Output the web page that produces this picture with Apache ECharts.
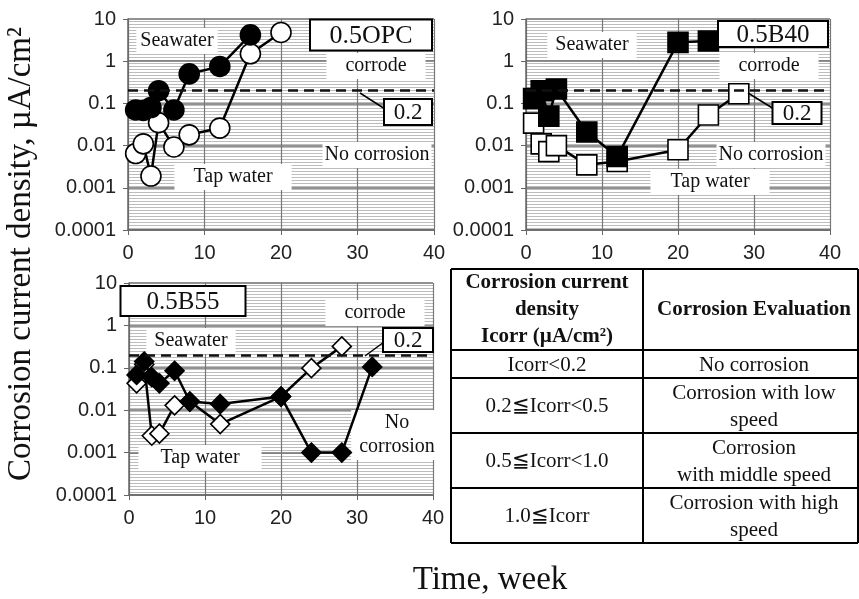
<!DOCTYPE html>
<html><head><meta charset="utf-8">
<script src="https://cdn.jsdelivr.net/npm/echarts@6/dist/echarts.min.js"></script>
<style>html,body{margin:0;padding:0;background:#fff}#c{width:859px;height:599px}</style>
</head><body><div id="c"></div>
<script>
// ---------- data ----------
const xTicks = [0, 10, 20, 30, 40];
const yTickLabels = ['0.0001', '0.001', '0.01', '0.1', '1', '10'];
const threshold = 0.2;

const opcWeeksSea = [1, 2, 3, 4, 6, 8, 12, 16];
const opcSea      = [0.07, 0.068, 0.08, 0.2, 0.07, 0.5, 0.75, 4.2];
const opcWeeksTap = [1, 2, 3, 4, 6, 8, 12, 16, 20];
const opcTap      = [0.0065, 0.011, 0.0019, 0.035, 0.0093, 0.018, 0.026, 1.5, 4.8];

const b40WeeksSea = [1, 2, 3, 4, 8, 12, 20, 24];
const b40Sea      = [0.13, 0.2, 0.05, 0.22, 0.021, 0.0055, 2.8, 3.0];
const b40WeeksTap = [1, 2, 3, 4, 8, 12, 20, 24, 28];
const b40Tap      = [0.034, 0.011, 0.0072, 0.01, 0.0035, 0.0042, 0.008, 0.053, 0.17];

const b55WeeksSea = [1, 2, 3, 4, 6, 8, 12, 20, 24, 28, 32];
const b55Sea      = [0.068, 0.14, 0.06, 0.043, 0.085, 0.016, 0.014, 0.021, 0.001, 0.001, 0.105];
const b55WeeksTap = [1, 2, 3, 4, 6, 8, 12, 20, 24, 28];
const b55Tap      = [0.043, 0.12, 0.0025, 0.0028, 0.013, 0.016, 0.0047, 0.021, 0.098, 0.32];

const panelNames = ['0.5OPC', '0.5B40', '0.5B55'];
const yTitle = 'Corrosion current density, \u00b5A/cm\u00b2';
const xTitle = 'Time, week';

const tableHeadLeft = ['Corrosion current', 'density', 'Icorr (\u00b5A/cm\u00b2)'];
const tableHeadRight = 'Corrosion Evaluation';
const tableRangeCol = ['Icorr<0.2', '0.2\u2266Icorr<0.5', '0.5\u2266Icorr<1.0', '1.0\u2266Icorr'];
const tableEvalCol = ['No corrosion', 'Corrosion with low\nspeed', 'Corrosion\nwith middle speed', 'Corrosion with high\nspeed'];

// ---------- helpers ----------
const zip = (xs, ys) => xs.map((x, i) => [x, ys[i]]);
const SERIF = "'Liberation Serif','Times New Roman',serif";
const SANS = "'Liberation Sans',Arial,sans-serif";

function stripeCanvas() {
  const c = document.createElement('canvas');
  c.width = 4; c.height = 3;
  const g = c.getContext('2d');
  g.fillStyle = '#ffffff'; g.fillRect(0, 0, 4, 3);
  g.fillStyle = '#bcbcbc'; g.fillRect(0, 0, 4, 1);
  return c;
}
const stripes = { image: stripeCanvas(), repeat: 'repeat' };

const grids = [
  { left: 128, top: 19, width: 306, height: 211 },
  { left: 526, top: 19, width: 304, height: 211 },
  { left: 129, top: 283, width: 304, height: 212 }
].map(g => Object.assign({ show: true, backgroundColor: stripes, borderWidth: 0 }, g));

function xAx(i) {
  return {
    gridIndex: i, type: 'value', min: xTicks[0], max: xTicks[xTicks.length - 1], interval: 10,
    axisLine: { show: true, onZero: false, lineStyle: { color: '#666', width: 1.5 } },
    axisTick: { show: true, length: 5, lineStyle: { color: '#666' } },
    axisLabel: { margin: 13, fontSize: 20, fontFamily: SANS, color: '#222' },
    splitLine: { show: true, lineStyle: { color: '#777', width: 1.2 } }
  };
}
function yAx(i) {
  return {
    gridIndex: i, type: 'log', logBase: 10, min: 0.0001, max: 10,
    axisLine: { show: true, onZero: false, lineStyle: { color: '#666', width: 1.5 } },
    axisTick: { show: true, length: 5, lineStyle: { color: '#666' } },
    axisLabel: { margin: 12, fontSize: 20, fontFamily: SANS, color: '#222',
      formatter: v => yTickLabels[Math.round(Math.log10(v)) + 4] },
    splitLine: { show: true, lineStyle: { color: '#6e6e6e', width: 1.5 } }
  };
}

function ser(i, data, symbol, size, filled, withMark) {
  const s = {
    type: 'line', xAxisIndex: i, yAxisIndex: i, data: data,
    symbol: symbol, symbolSize: size, showAllSymbol: true,
    lineStyle: { color: '#000', width: 2.5 },
    itemStyle: { color: filled ? '#000' : '#fff', borderColor: '#000', borderWidth: 1.6 },
    z: filled ? 4 : 3, silent: true, animation: false
  };
  if (withMark) {
    s.markLine = {
      silent: true, symbol: ['none', 'none'], label: { show: false },
      lineStyle: { color: '#111', width: 2.5, type: [10, 6] },
      data: [{ yAxis: threshold }]
    };
  }
  return s;
}

const series = [
  ser(0, zip(opcWeeksTap, opcTap), 'circle', 20, false, true),
  ser(0, zip(opcWeeksSea, opcSea), 'circle', 20, true, false),
  ser(1, zip(b40WeeksTap, b40Tap), 'rect', 20, false, true),
  ser(1, zip(b40WeeksSea, b40Sea), 'rect', 20, true, false),
  ser(2, zip(b55WeeksTap, b55Tap), 'diamond', 19, false, true),
  ser(2, zip(b55WeeksSea, b55Sea), 'diamond', 19, true, false)
];

// ---------- annotations (text) ----------
function wbox(text, x, y, padH, font) {
  return { type: 'text', z: 1, silent: true, style: {
    text: text, x: x, y: y, align: 'center', verticalAlign: 'middle',
    font: font || ('20px ' + SERIF), fill: '#111', backgroundColor: '#fff', padding: [1, padH], lineHeight: 24 } };
}
function nbox(text, x, y, w, h, fontSize) {
  return [
    { type: 'rect', z: 5, silent: true, shape: { x: x - w / 2, y: y - h / 2, width: w, height: h },
      style: { fill: '#fff', stroke: '#000', lineWidth: 2 } },
    { type: 'text', z: 6, silent: true, style: { text: text, x: x, y: y + 1, align: 'center', verticalAlign: 'middle',
      font: fontSize + 'px ' + SERIF, fill: '#111' } }
  ];
}
function leader(x1, y1, x2, y2) {
  return { type: 'line', z: 5, silent: true, shape: { x1: x1, y1: y1, x2: x2, y2: y2 }, style: { stroke: '#000', lineWidth: 1.5 } };
}

const graphics = [];
// panel OPC
graphics.push(wbox('Seawater', 177, 41, 4));
graphics.push(wbox('corrode', 376, 66, 19));
graphics.push(wbox('No corrosion', 377, 155, 2));
graphics.push(wbox('Tap water', 233, 177, 19));
graphics.push(...nbox(panelNames[0], 371, 35, 122, 31, 26));
graphics.push(leader(360, 93, 385, 109));
graphics.push(...nbox('0.2', 408, 112, 48, 26, 23));
// panel B40
graphics.push(wbox('Seawater', 592, 45, 8));
graphics.push(wbox('corrode', 769, 66, 19));
graphics.push(wbox('No corrosion', 771, 155, 2));
graphics.push(wbox('Tap water', 710, 182, 20));
graphics.push(...nbox(panelNames[1], 773, 34, 110, 26, 25));
graphics.push(leader(748, 93, 774, 109));
graphics.push(...nbox('0.2', 797, 113, 49, 22, 23));
// panel B55
graphics.push(wbox('corrode', 375, 313, 19));
graphics.push(wbox('Seawater', 191, 341, 8));
graphics.push(wbox('No\ncorrosion', 397, 435, 8));
graphics.push(wbox('Tap water', 200, 458, 22));
graphics.push(...nbox(panelNames[2], 183, 301, 125, 30, 25));
graphics.push(leader(365, 356, 384, 342));
graphics.push(...nbox('0.2', 408, 340, 50, 24, 23));

// axis titles
graphics.push({ type: 'text', silent: true, rotation: Math.PI / 2, x: 21, y: 254, style: {
  text: yTitle, x: 0, y: 0, align: 'center', verticalAlign: 'middle', font: '33px ' + SERIF, fill: '#111' } });
graphics.push({ type: 'text', silent: true, style: {
  text: xTitle, x: 490, y: 580, align: 'center', verticalAlign: 'middle', font: '33px ' + SERIF, fill: '#111' } });

// table
const T = { l: 451, r: 858, t: 269, c: 643, rows: [350, 378, 433, 488, 543] };
const tl = (x1, y1, x2, y2) => ({ type: 'line', silent: true, shape: { x1, y1, x2, y2 }, style: { stroke: '#000', lineWidth: 2 } });
graphics.push(tl(T.l, T.t, T.r, T.t));
graphics.push(tl(T.l, T.t, T.l, T.rows[4]));
graphics.push(tl(T.r, T.t, T.r, T.rows[4]));
graphics.push(tl(T.c, T.t, T.c, T.rows[4]));
T.rows.forEach(y => graphics.push(tl(T.l, y, T.r, y)));
const headFont = 'bold 21px ' + SERIF, cellFont = '21px ' + SERIF;
const leftC = (T.l + T.c) / 2, rightC = 754;
graphics.push({ type: 'text', silent: true, style: { text: tableHeadLeft.join('\n'), x: leftC, y: (T.t + T.rows[0]) / 2,
  align: 'center', verticalAlign: 'middle', font: headFont, lineHeight: 27, fill: '#111' } });
graphics.push({ type: 'text', silent: true, style: { text: tableHeadRight, x: rightC, y: (T.t + T.rows[0]) / 2,
  align: 'center', verticalAlign: 'middle', font: headFont, fill: '#111' } });
tableRangeCol.forEach((t, i) => {
  const yc = (T.rows[i] + T.rows[i + 1]) / 2;
  graphics.push({ type: 'text', silent: true, style: { text: t, x: leftC, y: yc + 1, align: 'center', verticalAlign: 'middle', font: cellFont, fill: '#111' } });
  graphics.push({ type: 'text', silent: true, style: { text: tableEvalCol[i], x: rightC, y: yc + 1, align: 'center', verticalAlign: 'middle', font: cellFont, lineHeight: 27, fill: '#111' } });
});

const chart = echarts.init(document.getElementById('c'), null, { renderer: 'canvas' });
chart.setOption({
  backgroundColor: '#fff',
  animation: false,
  grid: grids,
  xAxis: [xAx(0), xAx(1), xAx(2)],
  yAxis: [yAx(0), yAx(1), yAx(2)],
  series: series,
  graphic: { elements: graphics }
});
</script></body></html>
